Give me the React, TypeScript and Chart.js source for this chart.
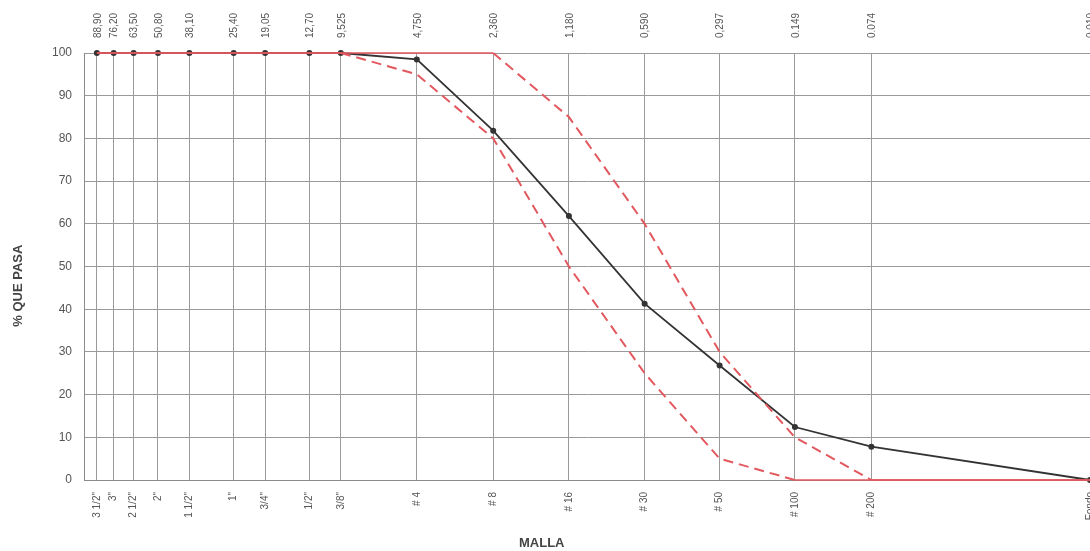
import React, { useEffect, useRef } from "react";
import { Chart, registerables } from "chart.js";

Chart.register(...registerables);

const sieveLabels = ['3 1/2"', '3"', '2 1/2"', '2"', '1 1/2"', '1"', '3/4"', '1/2"', '3/8"', "# 4", "# 8", "# 16", "# 30", "# 50", "# 100", "# 200", "Fondo"];
const sieveMm = [88.9, 76.2, 63.5, 50.8, 38.1, 25.4, 19.05, 12.7, 9.525, 4.75, 2.36, 1.18, 0.59, 0.297, 0.149, 0.074, 0.01];
const mmLabels = ["88,90", "76,20", "63,50", "50,80", "38,10", "25,40", "19,05", "12,70", "9,525", "4,750", "2,360", "1,180", "0,590", "0,297", "0.149", "0.074", "0.010"];
const muestra = [100, 100, 100, 100, 100, 100, 100, 100, 100, 98.5, 81.8, 61.8, 41.3, 26.8, 12.4, 7.8, 0];
const limiteInferior = [100, 100, 100, 100, 100, 100, 100, 100, 100, 95, 80, 50, 25, 5, 0, 0, 0];
const limiteSuperior = [100, 100, 100, 100, 100, 100, 100, 100, 100, 100, 100, 85, 60, 30, 10, 0, 0];
const yTicks = [0, 10, 20, 30, 40, 50, 60, 70, 80, 90, 100];

const idxOf = (v: number) => {
  let best = 0;
  let bd = Infinity;
  sieveMm.forEach((m, i) => {
    const d = Math.abs(Math.log(m) - Math.log(v));
    if (d < bd) { bd = d; best = i; }
  });
  return best;
};

const toPts = (arr: number[]) => arr.map((y, i) => ({ x: sieveMm[i], y }));

const dashSeg = {
  borderDash: (ctx: any) => (ctx.p0.parsed.y === ctx.p1.parsed.y ? [] : [10, 6]),
  borderWidth: (ctx: any) => (ctx.p0.parsed.y === ctx.p1.parsed.y ? 1.5 : 2),
};

const titlesPlugin = {
  id: "titles",
  afterDraw(chart: any) {
    const { ctx, chartArea } = chart;
    ctx.save();
    ctx.fillStyle = "#444";
    ctx.font = "bold 13px 'Liberation Sans', Arial, sans-serif";
    ctx.textAlign = "center";
    ctx.textBaseline = "middle";
    ctx.fillText("MALLA", chartArea.left + (chartArea.right - chartArea.left) * 0.455, 543);
    ctx.translate(18, chartArea.top + (chartArea.bottom - chartArea.top) * 0.545);
    ctx.rotate(-Math.PI / 2);
    ctx.fillText("% QUE PASA", 0, 0);
    ctx.restore();
  },
};

export default function App() {
  const ref = useRef<HTMLCanvasElement | null>(null);
  useEffect(() => {
    if (!ref.current) return;
    const font = { family: "'Liberation Sans', Arial, sans-serif", size: 10 };
    const chart = new Chart(ref.current, {
      type: "line",
      data: {
        datasets: [
          {
            label: "Límite superior",
            data: toPts(limiteSuperior),
            borderColor: "#e2585e",
            pointRadius: 0,
            fill: false,
            clip: 6,
            segment: dashSeg as any,
          },
          {
            label: "Límite inferior",
            data: toPts(limiteInferior),
            borderColor: "#e2585e",
            pointRadius: 0,
            fill: false,
            clip: 6,
            segment: dashSeg as any,
          },
          {
            label: "Muestra",
            data: toPts(muestra),
            borderColor: "#333333",
            backgroundColor: "#333333",
            borderWidth: 1.8,
            pointRadius: 3,
            pointBackgroundColor: "#333333",
            pointBorderWidth: 0,
            fill: false,
            clip: 6,
          },
        ],
      },
      options: {
        animation: false,
        responsive: false,
        layout: { padding: { left: 0, right: 0, top: 0, bottom: 0 } },
        plugins: { legend: { display: false }, tooltip: { enabled: false } },
        scales: {
          x: {
            type: "logarithmic",
            position: "bottom",
            reverse: true,
            min: 0.01,
            max: 100,
            afterBuildTicks: (s: any) => { s.ticks = sieveMm.map((v) => ({ value: v })); },
            afterFit: (s: any) => { s.height = 71; s.paddingLeft = 0; s.paddingRight = 0; },
            grid: { color: "#9a9a9a", lineWidth: 1, drawTicks: false },
            border: { color: "#8a8a8a" },
            ticks: {
              autoSkip: false,
              minRotation: 90,
              maxRotation: 90,
              padding: 12,
              color: "#555",
              font,
              callback: (v: any) => sieveLabels[idxOf(Number(v))],
            },
          },
          x2: {
            type: "logarithmic",
            position: "top",
            reverse: true,
            min: 0.01,
            max: 100,
            afterBuildTicks: (s: any) => { s.ticks = sieveMm.map((v) => ({ value: v })); },
            afterFit: (s: any) => { s.height = 53; s.paddingLeft = 0; s.paddingRight = 0; },
            grid: { display: false, drawTicks: false },
            border: { display: false },
            ticks: {
              autoSkip: false,
              minRotation: 90,
              maxRotation: 90,
              padding: 15,
              labelOffset: 13,
              color: "#555",
              font,
              callback: (v: any) => mmLabels[idxOf(Number(v))],
            },
          },
          y: {
            min: 0,
            max: 100,
            afterBuildTicks: (s: any) => { s.ticks = yTicks.map((v) => ({ value: v })); },
            afterFit: (s: any) => { s.width = 84; },
            grid: { color: "#9a9a9a", lineWidth: 1, drawTicks: false },
            border: { color: "#8a8a8a" },
            ticks: {
              padding: 12,
              color: "#555",
              font: { family: "'Liberation Sans', Arial, sans-serif", size: 12 },
            },
          },
        },
      },
      plugins: [titlesPlugin],
    });
    return () => chart.destroy();
  }, []);
  return (
    <div style={{ position: "fixed", left: 0, top: 0, width: 1090, height: 551, overflow: "hidden", background: "#fff" }}>
      <canvas ref={ref} width={1094} height={551} style={{ width: 1094, height: 551, display: "block" }} />
    </div>
  );
}
